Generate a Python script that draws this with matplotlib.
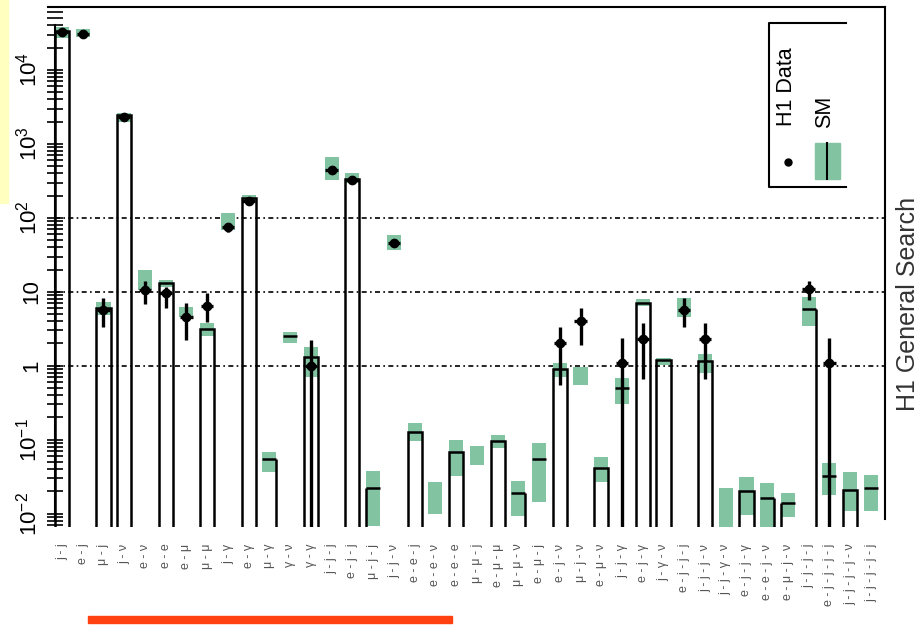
import numpy as np
import matplotlib
matplotlib.use('Agg')
import matplotlib.pyplot as plt
from matplotlib.lines import Line2D
from matplotlib.patches import Rectangle
from matplotlib.ticker import LogLocator, NullFormatter, FixedLocator, FixedFormatter

plt.rcParams['font.family'] = ['Liberation Sans', 'DejaVu Sans']
plt.rcParams['mathtext.default'] = 'regular'

# event classes, left to right
classes = ['j-j', 'e-j', 'μ-j', 'j-ν', 'e-ν', 'e-e', 'e-μ', 'μ-μ', 'j-γ', 'e-γ',
           'μ-γ', 'γ-ν', 'γ-γ', 'j-j-j', 'e-j-j', 'μ-j-j', 'j-j-ν', 'e-e-j', 'e-e-ν', 'e-e-e',
           'μ-μ-j', 'e-μ-μ', 'μ-μ-ν', 'e-μ-j', 'e-j-ν', 'μ-j-ν', 'e-μ-ν', 'j-j-γ', 'e-j-γ', 'j-γ-ν',
           'e-j-j-j', 'j-j-j-ν', 'j-j-γ-ν', 'e-j-j-γ', 'e-e-j-ν', 'e-μ-j-ν', 'j-j-j-j', 'e-j-j-j-j',
           'j-j-j-j-ν', 'j-j-j-j-j']

# SM expectation and its uncertainty band
sm = [33800, 31600, 6.1, 2460, 14, 13.3, 5.4, 3.16, 94, 187,
      0.054, 2.5, 1.3, 475, 336, 0.022, 48, 0.128, 0.0165, 0.069,
      0.059, 0.097, 0.019, 0.055, 0.89, 0.8, 0.042, 0.5, 7.1, 1.2,
      6.1, 1.15, 0.015, 0.020, 0.0165, 0.014, 5.9, 0.032, 0.021, 0.022]
sm_lo = [27000, 28000, 4.9, 2000, 10.6, 11.7, 4.5, 2.5, 69, 166,
         0.037, 2.0, 0.71, 326, 296, 0.0069, 37, 0.097, 0.010, 0.032,
         0.045, 0.078, 0.0093, 0.0145, 0.71, 0.55, 0.027, 0.30, 6.5, 1.03,
         4.5, 0.8, 0.005, 0.0097, 0.005, 0.0089, 3.4, 0.018, 0.011, 0.011]
sm_hi = [38000, 35500, 7.3, 2630, 20, 14.5, 6.3, 3.8, 117, 204,
         0.069, 2.9, 1.8, 665, 405, 0.038, 59, 0.17, 0.027, 0.10,
         0.081, 0.117, 0.028, 0.091, 1.1, 0.97, 0.059, 0.69, 8.0, 1.28,
         8.3, 1.45, 0.022, 0.031, 0.026, 0.019, 8.5, 0.049, 0.037, 0.033]
# outline drawn on the SM value: b = open bar, l / r = one edge, - = level only
outline = ['b', '', 'b', 'b', '', 'b', '', 'b', '', 'b',
           'r', '-', 'b', '', 'b', 'l', '', 'b', '', 'b',
           '', 'b', 'r', '-', 'b', '', 'b', '-', 'b', 'b',
           '', 'b', '', 'b', 'r', 'l', 'r', '-', 'b', '-']

# H1 data (nan = no events) with error bar ends
data = [32600, 31000, 5.7, 2300, 10.7, 9.7, 4.6, 6.5, 75, 170,
        np.nan, np.nan, 1, 445, 325, np.nan, 46, np.nan, np.nan, np.nan,
        np.nan, np.nan, np.nan, np.nan, 2.0, 4.0, np.nan, 1.1, 2.3, np.nan,
        5.7, 2.3, np.nan, np.nan, np.nan, np.nan, 11, 1.1, np.nan, np.nan]
data_lo = [29000, 28500, 3.3, 2150, 6.9, 6.1, 2.2, 3.9, 65, 158,
           np.nan, np.nan, 0.005, 405, 300, np.nan, 41, np.nan, np.nan, np.nan,
           np.nan, np.nan, np.nan, np.nan, 0.55, 1.9, np.nan, 0.005, 0.67, np.nan,
           3.3, 0.67, np.nan, np.nan, np.nan, np.nan, 7.8, 0.005, np.nan, np.nan]
data_hi = [36000, 34000, 8.3, 2450, 13.8, 11.7, 7.1, 9.7, 85, 182,
           np.nan, np.nan, 2.2, 485, 350, np.nan, 51, np.nan, np.nan, np.nan,
           np.nan, np.nan, np.nan, np.nan, 3.3, 6.1, np.nan, 2.4, 3.8, np.nan,
           8.3, 3.8, np.nan, np.nan, np.nan, np.nan, 14, 2.4, np.nan, np.nan]

W, H = 922, 630
green = '#82c4a2'


def fx(px):
    return px / W


def fy(py):
    return 1 - py / H


fig = plt.figure(figsize=(W / 100, H / 100), dpi=100)
ax = fig.add_axes([fx(48), fy(527), (885 - 48) / W, 520 / H])

x = np.arange(len(classes))
sm = np.array(sm)
sm_lo = np.array(sm_lo)
sm_hi = np.array(sm_hi)
data = np.array(data)
data_lo = np.array(data_lo)
data_hi = np.array(data_hi)
bw = 0.68

ax.set_yscale('log')
ax.set_ylim(0.0066, 7.1e4)
ax.set_xlim(-0.675, 39.68)

# reference lines
ax.hlines([1, 10, 100], -0.34, 39.68, colors='black', linewidth=1.2,
          linestyles=(0, (3, 2, 1, 2)), zorder=1)

# SM bands
ax.bar(x, sm_hi - sm_lo, bottom=sm_lo, width=bw, color=green, linewidth=0, zorder=2)

# SM outlines
for xi, s, o in zip(x, sm, outline):
    if o == 'b':
        ax.bar(xi, s - 1e-4, bottom=1e-4, width=bw, fill=False, edgecolor='black',
               linewidth=1.8, zorder=3)
    elif o in ('l', 'r', '-'):
        ax.hlines(s, xi - bw / 2, xi + bw / 2, colors='black', linewidth=1.8, zorder=3)
        if o == 'l':
            ax.vlines(xi - bw / 2, 1e-4, s, colors='black', linewidth=1.8, zorder=3)
        elif o == 'r':
            ax.vlines(xi + bw / 2, 1e-4, s, colors='black', linewidth=1.8, zorder=3)

# data
m = ~np.isnan(data)
ax.errorbar(x[m], data[m], yerr=[data[m] - data_lo[m], data_hi[m] - data[m]], xerr=0.3,
            fmt='o', color='black', ms=6, elinewidth=2.4, capsize=0, zorder=4)

# axes frame
ax.spines['bottom'].set_visible(False)
ax.spines['left'].set_position(('data', -0.34))
ax.spines['left'].set_bounds(0.0085, 4.1e4)
ax.spines['right'].set_bounds(0.0085, 7.1e4)
for sp in ('left', 'right', 'top'):
    ax.spines[sp].set_linewidth(1.5)

ax.yaxis.set_major_locator(FixedLocator([1e-2, 1e-1, 1, 10, 1e2, 1e3, 1e4]))
ax.yaxis.set_major_formatter(FixedFormatter(['$10^{-2}$', '$10^{-1}$', '1', '10',
                                             '$10^{2}$', '$10^{3}$', '$10^{4}$']))
ax.yaxis.set_minor_locator(LogLocator(base=10, subs=np.arange(2, 10), numticks=30))
ax.yaxis.set_minor_formatter(NullFormatter())
ax.tick_params(axis='y', which='both', direction='inout', length=11, width=1.2)
ax.tick_params(axis='y', which='major', labelsize=16, pad=4)
for lab in ax.get_yticklabels():
    lab.set_rotation(90)
    lab.set_va('center')

ax.set_xticks(x)
ax.set_xticklabels([c.replace('-', ' - ') for c in classes], rotation=90,
                   fontsize=9, color='#555555')
ax.tick_params(axis='x', length=0, pad=12)

# legend
fig.add_artist(Line2D([fx(846), fx(769), fx(769), fx(846)], [fy(23), fy(23), fy(187), fy(187)],
                      transform=fig.transFigure, color='black', linewidth=1.5))
fig.text(fx(786), fy(87), 'H1 Data', rotation=90, ha='center', va='center', fontsize=15.5)
fig.text(fx(825), fy(112), 'SM', rotation=90, ha='center', va='center', fontsize=15.5)
fig.add_artist(Line2D([fx(788)], [fy(162)], marker='o', ms=5, color='black',
                      transform=fig.transFigure))
fig.add_artist(Rectangle((fx(815), fy(179)), 25 / W, 36 / H, color=green,
                         transform=fig.transFigure))
fig.add_artist(Line2D([fx(827), fx(827)], [fy(143), fy(179)], color='black',
                      linewidth=1.5, transform=fig.transFigure))

fig.text(fx(908), fy(304), 'H1 General Search', rotation=90, ha='center', va='center',
         fontsize=18, color='#333333')

# slide decorations
fig.add_artist(Rectangle((0, fy(203)), 8 / W, 203 / H, color='#ffffc0',
                         transform=fig.transFigure, zorder=0))
fig.add_artist(Rectangle((fx(88), fy(623)), (452 - 88) / W, 7 / H, color='#ff4010',
                         transform=fig.transFigure))

fig.savefig('out.png', dpi=100)
